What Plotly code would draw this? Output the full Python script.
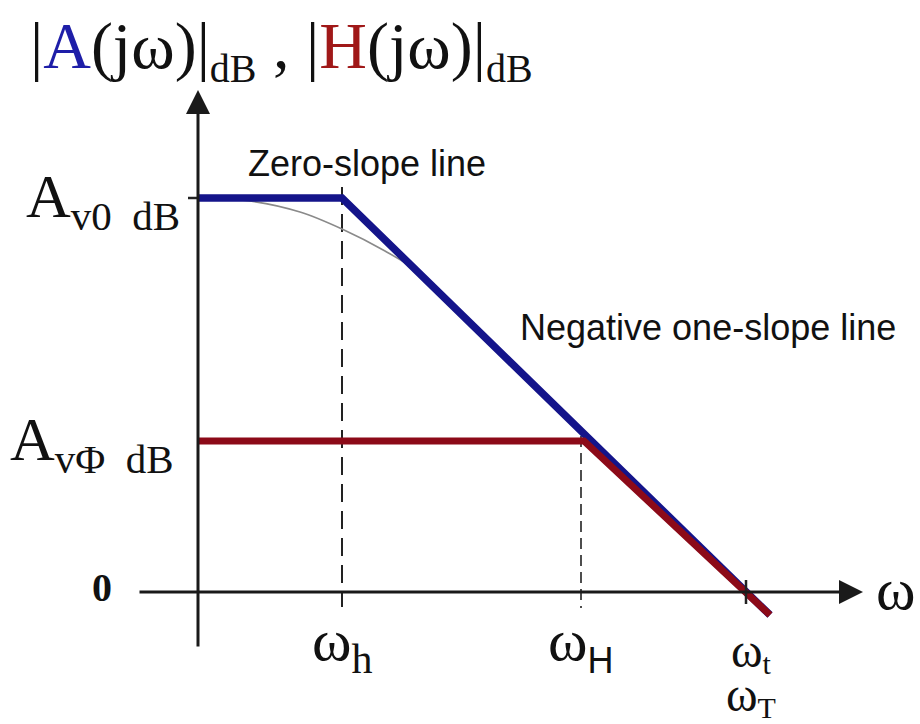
import plotly.graph_objects as go

# Bode magnitude asymptotes (x: position along the ω axis, y: magnitude in dB units)
omega_h = 1.44      # low-frequency corner ωh
omega_H = 3.86      # corner with feedback ωH
omega_t = 5.48      # unity-gain crossing ωt = ωT
A_v0 = 3.94         # open-loop gain Av0 dB
A_vphi = 1.51       # closed-loop gain AvΦ dB

open_loop_x = [0, omega_h, 5.72]
open_loop_y = [A_v0, A_v0, -0.23]

closed_loop_x = [0, omega_H, 5.72]
closed_loop_y = [A_vphi, A_vphi, -0.23]

# actual (rounded) open-loop response near the corner
actual_x = [0, 0.52, 1.02, 1.44, 1.87, 2.22, 2.62]
actual_y = [3.94, 3.91, 3.80, 3.63, 3.41, 3.19, 2.81]

BLUE = "#14148a"
RED = "#8c0a18"
SERIF = "Liberation Serif, Times New Roman, serif"
SANS = "Liberation Sans, Arial, sans-serif"

fig = go.Figure()

fig.add_trace(go.Scatter(x=actual_x, y=actual_y, mode="lines", line=dict(color="#8a8a8a", width=1.6, shape="spline"),
                         hoverinfo="skip"))
fig.add_trace(go.Scatter(x=open_loop_x, y=open_loop_y, mode="lines", line=dict(color=BLUE, width=7.5),
                         hoverinfo="skip"))
fig.add_trace(go.Scatter(x=closed_loop_x, y=closed_loop_y, mode="lines", line=dict(color=RED, width=7),
                         hoverinfo="skip"))

# dashed guides and ticks
fig.add_shape(type="line", x0=omega_h, x1=omega_h, y0=A_v0 + 0.11, y1=-0.15,
              line=dict(color="#222", width=2, dash="18px,9px"), layer="below")
fig.add_shape(type="line", x0=omega_H - 0.03, x1=omega_H - 0.03, y0=A_vphi + 0.05, y1=-0.16,
              line=dict(color="#222", width=1.6, dash="11px,6px"), layer="below")
fig.add_shape(type="line", x0=omega_t, x1=omega_t, y0=0.12, y1=-0.12, line=dict(color="#222", width=2.5))
fig.add_shape(type="line", x0=-0.10, x1=0, y0=A_v0, y1=A_v0, line=dict(color="#222", width=2.5))

# axes with arrowheads
fig.add_annotation(x=6.65, y=0, ax=-0.60, ay=0, xref="x", yref="y", axref="x", ayref="y", text="",
                   showarrow=True, arrowhead=2, arrowsize=1.6, arrowwidth=3, arrowcolor="#1a1a1a")
fig.add_annotation(x=0, y=5.02, ax=0, ay=-0.56, xref="x", yref="y", axref="x", ayref="y", text="",
                   showarrow=True, arrowhead=2, arrowsize=1.6, arrowwidth=3, arrowcolor="#1a1a1a")

def label(x, y, text, size, family=SERIF, xanchor="center", yanchor="middle", color="#111"):
    fig.add_annotation(x=x, y=y, xref="x", yref="y", text=text, showarrow=False,
                       xanchor=xanchor, yanchor=yanchor, font=dict(family=family, size=size, color=color))

sub = "<sub><span style='font-size:{}px'>{}</span></sub>"
big = "<span style='font-size:{}px'>{}</span>"

label(-1.70, 5.42,
      "|<span style='color:#1e1ea8'>A</span>(jω)|" + sub.format(40, "dB") +
      " , |<span style='color:#a01818'>H</span>(jω)|" + sub.format(40, "dB"),
      66, xanchor="left")
label(-0.16, A_v0 - 0.02, "A" + sub.format(41, "v0  dB"), 62, xanchor="right")
label(-0.22, A_vphi - 0.02, "A" + sub.format(41, "vΦ  dB"), 62, xanchor="right")
label(-0.96, 0.05, "<b>0</b>", 40)
label(6.98, 0.03, "ω", 60)
label(omega_h, -0.52, "ω" + sub.format(42, "h"), 60)
label(omega_H - 0.03, -0.52, "ω" + sub.format(36, "<span style='font-family:Liberation Sans'>H</span>"), 60)
# ωt and ωT share one two-line label under the crossing
label(omega_t + 0.05, -0.82,
      big.format(48, "ω") + sub.format(30, "t") + "<br>" + big.format(48, "ω") + sub.format(30, "T"), 34)

label(1.69, 4.29, "Zero-slope line", 36, family=SANS)
label(5.10, 2.65, "Negative one-slope line", 36, family=SANS)

fig.update_layout(
    width=920, height=724, margin=dict(l=0, r=0, t=0, b=0),
    paper_bgcolor="white", plot_bgcolor="white", showlegend=False,
    xaxis=dict(range=[-1.98, 7.22], visible=False, fixedrange=True),
    yaxis=dict(range=[-1.32, 5.92], visible=False, fixedrange=True),
)

fig.write_html("out.html")
